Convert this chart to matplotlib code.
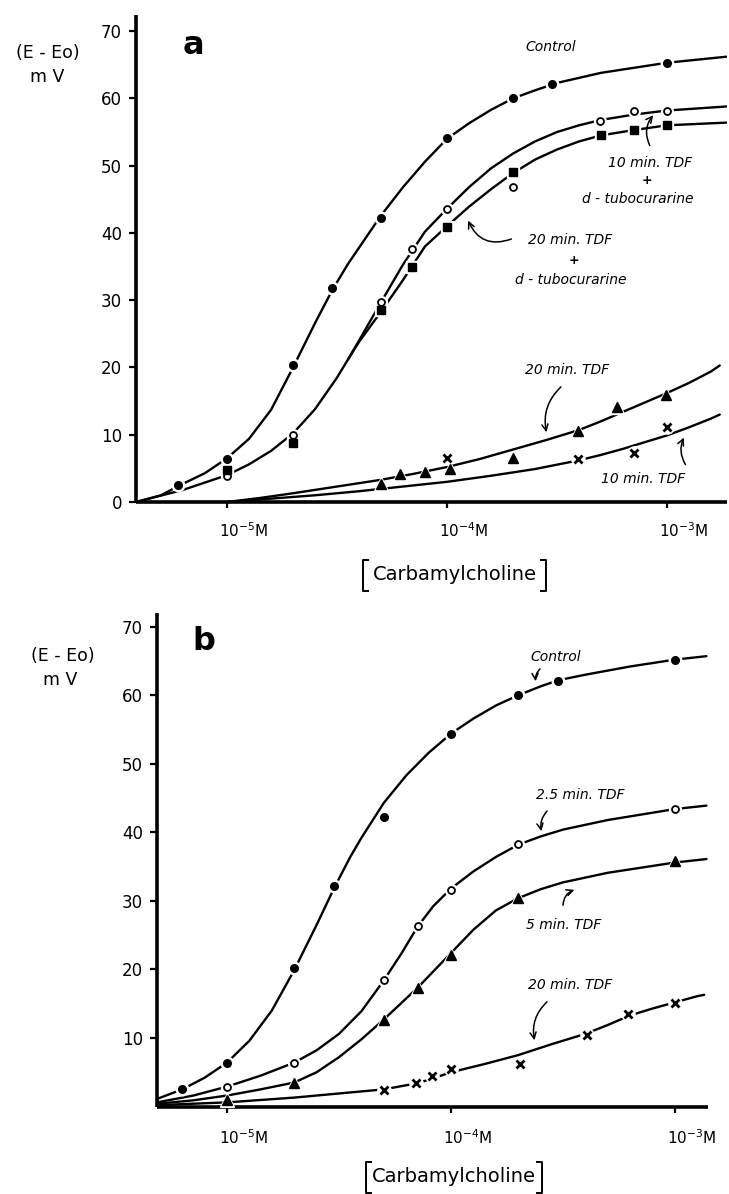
import numpy as np
import matplotlib
matplotlib.use('Agg')
import matplotlib.pyplot as plt
from matplotlib.patches import FancyArrowPatch
from matplotlib.lines import Line2D
from matplotlib.transforms import ScaledTranslation
from matplotlib.ticker import NullLocator, FixedLocator

# ---------------- data: panel a (measured points) ----------------
a_ctrl_x = [6.0e-6, 1.0e-5, 2.0e-5, 3.0e-5, 5.0e-5, 1.0e-4, 2.0e-4, 3.0e-4, 1.0e-3]
a_ctrl_y = [2.6, 6.4, 20.3, 31.8, 42.2, 54.1, 60.0, 62.1, 65.3]
a_tdf10d_x = [1.0e-5, 2.0e-5, 5.0e-5, 6.9e-5, 1.0e-4, 2.0e-4, 4.95e-4, 7.05e-4, 1.0e-3]
a_tdf10d_y = [3.9, 10.0, 29.7, 37.6, 43.5, 46.8, 56.7, 58.2, 58.1]
a_tdf20d_x = [1.0e-5, 2.0e-5, 5.0e-5, 6.95e-5, 1.0e-4, 2.0e-4, 5.0e-4, 7.05e-4, 1.0e-3]
a_tdf20d_y = [4.75, 8.8, 28.5, 35.0, 40.9, 49.0, 54.5, 55.3, 56.0]
a_tdf20_x = [5.0e-5, 6.1e-5, 7.96e-5, 1.03e-4, 2.0e-4, 3.94e-4, 5.9e-4, 9.9e-4]
a_tdf20_y = [2.7, 4.2, 4.5, 4.85, 6.5, 10.5, 14.1, 15.9]
a_tdf10_x = [1.0e-4, 3.94e-4, 7.05e-4, 1.0e-3]
a_tdf10_y = [6.6, 6.45, 7.3, 11.2]

# ---------------- panel a drawn curves (x as log10 M) ----------------
a_ctrl_cexp = [-5.414, -5.3, -5.22, -5.1, -5.0, -4.9, -4.8, -4.7, -4.6, -4.52, -4.45, -4.4,
               -4.3, -4.2, -4.1, -4.0, -3.9, -3.8, -3.7, -3.6, -3.5, -3.3, -3.0, -2.73]
a_ctrl_cy = [0.0, 1.0, 2.4, 4.3, 6.5, 9.4, 13.7, 20.0, 26.6, 31.6, 35.4, 37.8,
             42.6, 46.8, 50.6, 54.0, 56.3, 58.3, 60.0, 61.2, 62.3, 63.8, 65.3, 66.2]
a_tdf10d_cexp = [-5.414, -5.2, -5.0, -4.9, -4.8, -4.7, -4.6, -4.5, -4.45, -4.4, -4.3, -4.2,
                 -4.1, -4.0, -3.9, -3.8, -3.7, -3.6, -3.5, -3.4, -3.3, -3.15, -3.0, -2.73]
a_tdf10d_cy = [0.0, 1.8, 4.0, 5.6, 7.6, 10.2, 13.8, 18.5, 21.2, 24.0, 29.7, 35.3,
               40.2, 43.6, 46.8, 49.6, 51.8, 53.6, 55.0, 56.0, 56.8, 57.6, 58.2, 58.8]
a_tdf20d_cexp = [-4.45, -4.4, -4.3, -4.2, -4.16, -4.1, -4.0, -3.9, -3.8, -3.7, -3.6, -3.5,
                 -3.4, -3.3, -3.15, -3.0, -2.73]
a_tdf20d_cy = [21.2, 23.8, 28.3, 33.0, 35.0, 38.0, 41.0, 43.9, 46.5, 48.9, 50.9, 52.4,
               53.6, 54.5, 55.3, 56.0, 56.4]
a_tdf20_cexp = [-5.0, -4.85, -4.7, -4.5, -4.3, -4.15, -4.0, -3.85, -3.7, -3.55, -3.4, -3.3,
                -3.2, -3.1, -3.0, -2.9, -2.8, -2.76]
a_tdf20_cy = [0.0, 0.6, 1.3, 2.3, 3.3, 4.2, 5.2, 6.4, 7.8, 9.2, 10.7, 12.0,
              13.4, 14.8, 16.2, 17.7, 19.4, 20.3]
a_tdf10_cexp = [-5.0, -4.8, -4.6, -4.4, -4.2, -4.0, -3.8, -3.6, -3.4, -3.3, -3.2, -3.1,
                -3.0, -2.9, -2.8, -2.76]
a_tdf10_cy = [0.0, 0.5, 1.0, 1.6, 2.3, 3.0, 3.9, 4.9, 6.2, 7.0, 7.9, 8.9,
              9.9, 11.1, 12.4, 13.0]

# ---------------- data: panel b (measured points) ----------------
b_ctrl_x = [6.3e-6, 1.0e-5, 2.0e-5, 3.0e-5, 5.0e-5, 1.0e-4, 2.0e-4, 3.0e-4, 1.0e-3]
b_ctrl_y = [2.5, 6.3, 20.2, 32.2, 42.2, 54.3, 60.0, 62.1, 65.2]
b_tdf25_x = [1.0e-5, 2.0e-5, 5.0e-5, 7.1e-5, 1.0e-4, 2.0e-4, 1.0e-3]
b_tdf25_y = [2.8, 6.3, 18.4, 26.4, 31.6, 38.3, 43.4]
b_tdf5_x = [1.0e-5, 2.0e-5, 5.0e-5, 7.1e-5, 1.0e-4, 2.0e-4, 1.0e-3]
b_tdf5_y = [1.0, 3.5, 12.6, 17.3, 22.1, 30.4, 35.8]
b_tdf20_x = [5.0e-5, 7.0e-5, 8.2e-5, 1.0e-4, 2.03e-4, 4.04e-4, 6.14e-4, 1.0e-3]
b_tdf20_y = [2.4, 3.4, 4.4, 5.5, 6.2, 10.4, 13.5, 15.1]

# ---------------- panel b drawn curves (x as log10 M) ----------------
b_ctrl_cexp = [-5.3125, -5.2, -5.1, -5.0, -4.9, -4.8, -4.7, -4.6, -4.52, -4.45, -4.4, -4.3,
               -4.2, -4.1, -4.0, -3.9, -3.8, -3.7, -3.6, -3.52, -3.4, -3.2, -3.0, -2.86]
b_ctrl_cy = [1.1, 2.5, 4.2, 6.4, 9.6, 14.0, 19.9, 26.5, 32.0, 36.4, 39.2, 44.3,
             48.3, 51.6, 54.4, 56.6, 58.5, 60.0, 61.3, 62.2, 63.0, 64.2, 65.2, 65.7]
b_tdf25_cexp = [-5.3125, -5.15, -5.0, -4.85, -4.7, -4.6, -4.5, -4.4, -4.3, -4.22, -4.15, -4.08,
                -4.0, -3.9, -3.8, -3.7, -3.6, -3.5, -3.3, -3.0, -2.86]
b_tdf25_cy = [0.6, 1.6, 2.9, 4.5, 6.4, 8.2, 10.6, 13.9, 18.4, 22.4, 26.2, 29.2,
              31.8, 34.3, 36.4, 38.2, 39.4, 40.4, 41.8, 43.4, 43.9]
b_tdf5_cexp = [-5.3125, -5.15, -5.0, -4.85, -4.7, -4.6, -4.5, -4.4, -4.3, -4.15, -4.0, -3.9,
               -3.8, -3.7, -3.6, -3.5, -3.3, -3.0, -2.86]
b_tdf5_cy = [0.4, 0.9, 1.6, 2.5, 3.5, 5.0, 7.2, 9.8, 12.7, 17.3, 22.4, 25.8,
             28.6, 30.4, 31.7, 32.7, 34.1, 35.6, 36.1]
b_tdf20_cexp = [-5.3125, -5.0, -4.7, -4.5, -4.3, -4.15, -4.09, -4.0, -3.85, -3.7, -3.55, -3.4,
                -3.3, -3.2, -3.1, -3.0, -2.9, -2.87]
b_tdf20_cy = [0.2, 0.6, 1.3, 1.9, 2.5, 3.4, 4.0, 5.0, 6.2, 7.5, 9.1, 10.6,
              11.9, 13.3, 14.3, 15.2, 16.1, 16.3]

x_tick_vals = [1e-5, 1e-4, 1e-3]
x_tick_labels = ['10$^{-5}$M', '10$^{-4}$M', '10$^{-3}$M']
a_yticks = [0, 10, 20, 30, 40, 50, 60, 70]
b_yticks = [10, 20, 30, 40, 50, 60, 70]

# ---------------- figure ----------------
W, H = 729, 1194
fig = plt.figure(figsize=(W / 100, H / 100), dpi=100)
plt.rcParams['font.family'] = ['DejaVu Sans']


def fx(x):
    return x / W


def fy(y):
    return 1 - y / H


def setup_axes(ax, xlim, ylim, yticks, lab_dy):
    ax.set_xscale('log')
    ax.set_xlim(*xlim)
    ax.set_ylim(*ylim)
    for s in ['top', 'right']:
        ax.spines[s].set_visible(False)
    for s in ['left', 'bottom']:
        ax.spines[s].set_linewidth(2.6)
        ax.spines[s].set_capstyle('butt')
    ax.xaxis.set_minor_locator(NullLocator())
    ax.xaxis.set_major_locator(FixedLocator(x_tick_vals))
    ax.set_xticklabels([''] * len(x_tick_vals))
    ax.tick_params(axis='x', direction='out', length=4, width=1.6)
    ax.set_yticks(yticks)
    ax.set_yticklabels([str(v) for v in yticks], fontsize=12)
    ax.tick_params(axis='y', direction='out', length=5, width=1.6, pad=5)
    ax.patch.set_visible(False)
    tr = ax.get_xaxis_transform() + ScaledTranslation(-8 / 100, -lab_dy / 100, fig.dpi_scale_trans)
    for v, t in zip(x_tick_vals, x_tick_labels):
        ax.text(v, 0, t, transform=tr, ha='left', va='baseline', fontsize=11)


def curve(ax, cexp, cy):
    ax.plot(10.0 ** np.asarray(cexp), cy, color='black', lw=1.7, zorder=2,
            solid_capstyle='round', solid_joinstyle='round')


def points(ax, x, y, marker, ms, face, mew=1.0):
    halo = 'o' if marker == 'x' else marker
    ax.plot(x, y, ls='none', marker=halo, ms=ms + 3.5, mfc='white', mec='white', zorder=3)
    ax.plot(x, y, ls='none', marker=marker, ms=ms, mfc=face, mec='black', mew=mew, zorder=4)


# panel a
axa = fig.add_axes([fx(136), fy(502), fx(727) - fx(136), fy(15) - fy(502)])
setup_axes(axa, (10 ** -5.414, 10 ** -2.727), (0, 72.4), a_yticks, 35)
curve(axa, a_ctrl_cexp, a_ctrl_cy)
curve(axa, a_tdf10d_cexp, a_tdf10d_cy)
curve(axa, a_tdf20d_cexp, a_tdf20d_cy)
curve(axa, a_tdf20_cexp, a_tdf20_cy)
curve(axa, a_tdf10_cexp, a_tdf10_cy)
points(axa, a_ctrl_x, a_ctrl_y, 'o', 5.5, 'black')
points(axa, a_tdf10d_x, a_tdf10d_y, 'o', 5.0, 'white', 1.3)
points(axa, a_tdf20d_x, a_tdf20d_y, 's', 5.5, 'black')
points(axa, a_tdf20_x, a_tdf20_y, '^', 7.0, 'black')
points(axa, a_tdf10_x, a_tdf10_y, 'x', 6.0, 'black', 2.0)

# panel b
axb = fig.add_axes([fx(157), fy(1106.5), fx(708) - fx(157), fy(613) - fy(1106.5)])
setup_axes(axb, (10 ** -5.3125, 10 ** -2.853), (0, 72.0), b_yticks, 37)
curve(axb, b_ctrl_cexp, b_ctrl_cy)
curve(axb, b_tdf25_cexp, b_tdf25_cy)
curve(axb, b_tdf5_cexp, b_tdf5_cy)
curve(axb, b_tdf20_cexp, b_tdf20_cy)
points(axb, b_ctrl_x, b_ctrl_y, 'o', 5.5, 'black')
points(axb, b_tdf25_x, b_tdf25_y, 'o', 5.0, 'white', 1.3)
points(axb, b_tdf5_x, b_tdf5_y, '^', 7.0, 'black')
points(axb, b_tdf20_x, b_tdf20_y, 'x', 6.0, 'black', 2.0)


# ---------------- texts ----------------
def ftext(x, y, s, **kw):
    fig.text(fx(x), fy(y), s, ha='center', va='center', **kw)


def arrow(p1, p2, rad):
    fig.add_artist(FancyArrowPatch((fx(p1[0]), fy(p1[1])), (fx(p2[0]), fy(p2[1])),
                                   transform=fig.transFigure,
                                   connectionstyle='arc3,rad=%g' % rad,
                                   arrowstyle='->,head_length=0.45,head_width=0.22',
                                   mutation_scale=10, lw=1.1, color='black'))


def bracket(xl, xr, yt, yb):
    for x, d in ((xl, 5), (xr, -5)):
        fig.add_artist(Line2D([fx(x + d), fx(x), fx(x), fx(x + d)],
                              [fy(yt), fy(yt), fy(yb), fy(yb)],
                              transform=fig.transFigure, color='black', lw=1.4))


it = dict(fontsize=10, style='italic')

# panel a labels
ftext(48, 53, '(E - Eo)', fontsize=12.5)
ftext(47, 77, 'm V', fontsize=12.5)
ftext(193, 46, 'a', fontsize=23, fontweight='bold')
ftext(551, 47, 'Control', **it)
ftext(650, 163, '10 min. TDF', **it)
ftext(647, 180, '+', fontsize=9, fontweight='bold')
ftext(638, 199, 'd - tubocurarine', **it)
arrow((651, 148), (655, 113), -0.35)
ftext(570, 240, '20 min. TDF', **it)
ftext(574, 260, '+', fontsize=9, fontweight='bold')
ftext(571, 280, 'd - tubocurarine', **it)
arrow((514, 238), (467, 218), -0.5)
ftext(567, 370, '20 min. TDF', **it)
arrow((563, 385), (547, 435), 0.3)
ftext(643, 479, '10 min. TDF', **it)
arrow((687, 467), (685, 435), -0.3)
ftext(455, 575, 'Carbamylcholine', fontsize=14)
bracket(363, 546, 560, 591)

# panel b labels
ftext(63, 656, '(E - Eo)', fontsize=12.5)
ftext(60, 680, 'm V', fontsize=12.5)
ftext(204, 641, 'b', fontsize=23, fontweight='bold')
ftext(556, 657, 'Control', **it)
arrow((542, 667), (536, 684), 0.3)
ftext(580, 795, '2.5 min. TDF', **it)
arrow((549, 809), (542, 834), 0.3)
ftext(564, 925, '5 min. TDF', **it)
arrow((563, 908), (577, 889), -0.4)
ftext(570, 985, '20 min. TDF', **it)
arrow((549, 1000), (535, 1043), 0.3)
ftext(454, 1177, 'Carbamylcholine', fontsize=14)
bracket(366, 542, 1162, 1193)

fig.savefig('out.png', dpi=100)
